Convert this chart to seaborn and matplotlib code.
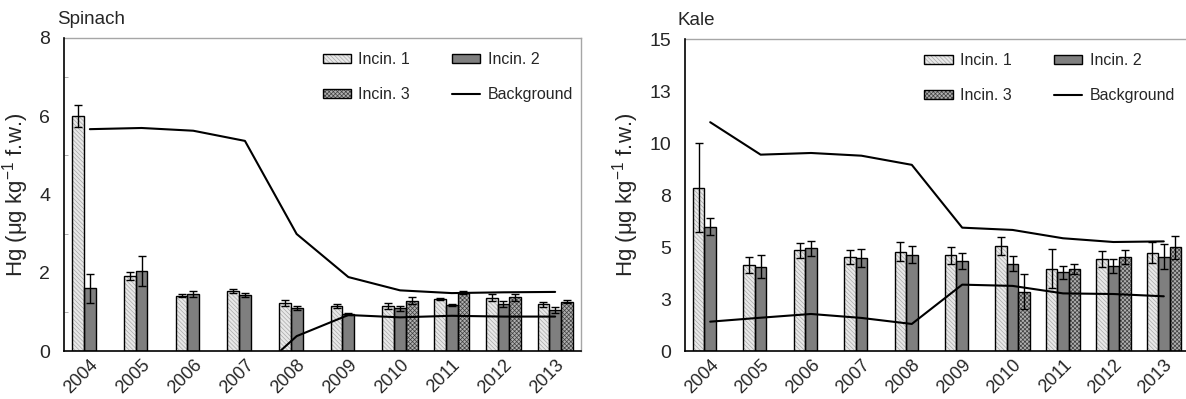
import matplotlib
matplotlib.use('Agg')
import matplotlib.pyplot as plt
import matplotlib.patches as mpatches
from matplotlib.lines import Line2D
from matplotlib.ticker import FixedLocator, MultipleLocator
import numpy as np
import pandas as pd
import seaborn as sns

nan = np.nan

years = [str(y) for y in range(2004, 2014)]
series = ['Incin. 1', 'Incin. 2', 'Incin. 3']

# Spinach means and SDs (ug/kg f.w.)
spinach_1 = [6.00, 1.91, 1.41, 1.53, 1.22, 1.15, 1.15, 1.33, 1.36, 1.19]
spinach_1_sd = [0.28, 0.10, 0.04, 0.05, 0.08, 0.06, 0.07, 0.03, 0.09, 0.06]
spinach_2 = [1.60, 2.05, 1.45, 1.42, 1.10, 0.95, 1.09, 1.18, 1.20, 1.05]
spinach_2_sd = [0.38, 0.38, 0.08, 0.05, 0.06, 0.03, 0.07, 0.03, 0.08, 0.07]
spinach_3 = [nan, nan, nan, nan, nan, nan, 1.29, 1.49, 1.37, 1.26]
spinach_3_sd = [nan, nan, nan, nan, nan, nan, 0.10, 0.04, 0.08, 0.04]
spinach_bg_hi = [5.67, 5.70, 5.63, 5.37, 2.99, 1.89, 1.55, 1.48, 1.50, 1.51]
spinach_bg_lo = [nan, nan, nan, -0.82, 0.38, 0.92, 0.86, 0.90, 0.88, 0.88]

# Kale means and SDs (ug/kg f.w.)
kale_1 = [7.85, 4.13, 4.84, 4.52, 4.78, 4.60, 5.05, 3.96, 4.44, 4.73]
kale_1_sd = [2.15, 0.38, 0.36, 0.35, 0.46, 0.42, 0.44, 0.95, 0.38, 0.52]
kale_2 = [5.97, 4.05, 4.94, 4.47, 4.62, 4.31, 4.20, 3.78, 4.09, 4.54]
kale_2_sd = [0.41, 0.56, 0.37, 0.41, 0.41, 0.38, 0.35, 0.32, 0.32, 0.60]
kale_3 = [nan, nan, nan, nan, nan, nan, 2.85, 3.94, 4.52, 4.98]
kale_3_sd = [nan, nan, nan, nan, nan, nan, 0.83, 0.26, 0.32, 0.55]
kale_bg_hi = [11.0, 9.44, 9.52, 9.39, 8.95, 5.93, 5.82, 5.42, 5.24, 5.27]
kale_bg_lo = [1.41, 1.60, 1.78, 1.59, 1.30, 3.19, 3.13, 2.77, 2.74, 2.63]

spinach_ticks = [0, 2, 4, 6, 8]
spinach_ticklabels = ['0', '2', '4', '6', '8']
kale_ticks = [0, 2.5, 5, 7.5, 10, 12.5, 15]
kale_ticklabels = ['0', '3', '5', '8', '10', '13', '15']

# hatch colour is taken from the edge colour, so the black outline is drawn
# separately on top
styles = [
    dict(facecolor='#e8e8e8', hatch='\\\\\\\\\\\\\\\\', hatchcolor='#a8a8a8'),
    dict(facecolor='#7f7f7f', hatch=None, hatchcolor='#7f7f7f'),
    dict(facecolor='#b0b0b0', hatch='xxxxxxxx', hatchcolor='#404040'),
]

WIDTH = 0.68

sns.set_style('white')
plt.rcParams['font.family'] = ['Liberation Sans', 'DejaVu Sans']
plt.rcParams['mathtext.fontset'] = 'custom'
plt.rcParams['mathtext.rm'] = 'Liberation Sans'
plt.rcParams['mathtext.it'] = 'Liberation Sans:italic'
plt.rcParams['hatch.linewidth'] = 0.5


def outline(p, lw=1.0):
    return mpatches.Rectangle(p.get_xy(), p.get_width(), p.get_height(),
                              fill=False, edgecolor='black', lw=lw,
                              zorder=p.get_zorder() + 0.1)


def draw_panel(ax, title, means, sds, bg_hi, bg_lo, ymax, ticks, ticklabels,
               minor, leg_x):
    rows = []
    for name, vals in zip(series, means):
        for yr, v in zip(years, vals):
            rows.append({'year': yr, 'series': name, 'hg': v})
    df = pd.DataFrame(rows)

    sns.barplot(data=df, x='year', y='hg', hue='series', order=years,
                hue_order=series, width=WIDTH, gap=0, errorbar=None,
                legend=False, ax=ax)
    for cont, st in zip(ax.containers, styles):
        for p in list(cont):
            p.set_facecolor(st['facecolor'])
            p.set_edgecolor(st['hatchcolor'])
            p.set_linewidth(0)
            if st['hatch']:
                p.set_hatch(st['hatch'])
            if np.isfinite(p.get_height()) and p.get_height() > 0:
                ax.add_patch(outline(p))

    xs = np.arange(len(years))
    bw = WIDTH / len(series)
    for k, (m, s) in enumerate(zip(means, sds)):
        ax.errorbar(xs + (k - 1) * bw, m, yerr=s, fmt='none', ecolor='black',
                    elinewidth=1, capsize=3, capthick=1, zorder=4)

    sns.lineplot(x=xs, y=bg_hi, ax=ax, color='black', lw=1.5, zorder=5)
    sns.lineplot(x=xs, y=bg_lo, ax=ax, color='black', lw=1.5, zorder=5)

    ax.set_xlim(-0.5, len(years) - 0.5)
    ax.set_ylim(0, ymax)
    ax.yaxis.set_major_locator(FixedLocator(ticks))
    ax.set_yticklabels(ticklabels)
    if minor:
        ax.yaxis.set_minor_locator(MultipleLocator(minor))
    ax.tick_params(axis='y', which='major', labelsize=14, direction='out',
                   length=3, color='#a0a0a0', pad=7)
    ax.tick_params(axis='y', which='minor', direction='in', length=3,
                   color='#a0a0a0', left=True)
    ax.tick_params(axis='x', labelsize=13, length=0, pad=4)
    plt.setp(ax.get_xticklabels(), rotation=45, ha='right',
             rotation_mode='anchor')
    ax.set_xlabel('')
    ax.set_ylabel('Hg (μg kg$^{-1}$ f.w.)', fontsize=16, labelpad=6)

    for side in ['left', 'bottom']:
        ax.spines[side].set_color('black')
        ax.spines[side].set_linewidth(1.2)
        ax.spines[side].set_zorder(6)
    for side in ['top', 'right']:
        ax.spines[side].set_color('#a6a6a6')
        ax.spines[side].set_linewidth(1.0)

    ax.text(-0.014, 1.058, title, transform=ax.transAxes, fontsize=13.5,
            ha='left', va='center')

    handles = []
    for st in styles:
        fill = mpatches.Patch(facecolor=st['facecolor'],
                              edgecolor=st['hatchcolor'], hatch=st['hatch'],
                              lw=0)
        edge = mpatches.Patch(fill=False, edgecolor='black', lw=1.0)
        handles.append((fill, edge))
    bg = Line2D([], [], color='black', lw=1.5)
    ax.legend([handles[0], handles[2], handles[1], bg],
              [series[0], series[2], series[1], 'Background'],
              ncol=2, frameon=False, fontsize=11.5, loc='upper left',
              bbox_to_anchor=(leg_x, 0.955), borderaxespad=0, borderpad=0,
              handlelength=1.8, handleheight=0.45, handletextpad=0.45,
              columnspacing=2.6, labelspacing=1.25)


fig = plt.figure(figsize=(11.86, 3.99), dpi=100)
ax1 = fig.add_axes([64 / 1186, 48 / 399, 517 / 1186, 313 / 399])
ax2 = fig.add_axes([685 / 1186, 48 / 399, 504 / 1186, 312 / 399])

draw_panel(ax1, 'Spinach',
           [spinach_1, spinach_2, spinach_3],
           [spinach_1_sd, spinach_2_sd, spinach_3_sd],
           spinach_bg_hi, spinach_bg_lo, 8,
           spinach_ticks, spinach_ticklabels, 1, 0.50)
draw_panel(ax2, 'Kale',
           [kale_1, kale_2, kale_3],
           [kale_1_sd, kale_2_sd, kale_3_sd],
           kale_bg_hi, kale_bg_lo, 15,
           kale_ticks, kale_ticklabels, None, 0.475)

fig.savefig('out.png', dpi=100)
